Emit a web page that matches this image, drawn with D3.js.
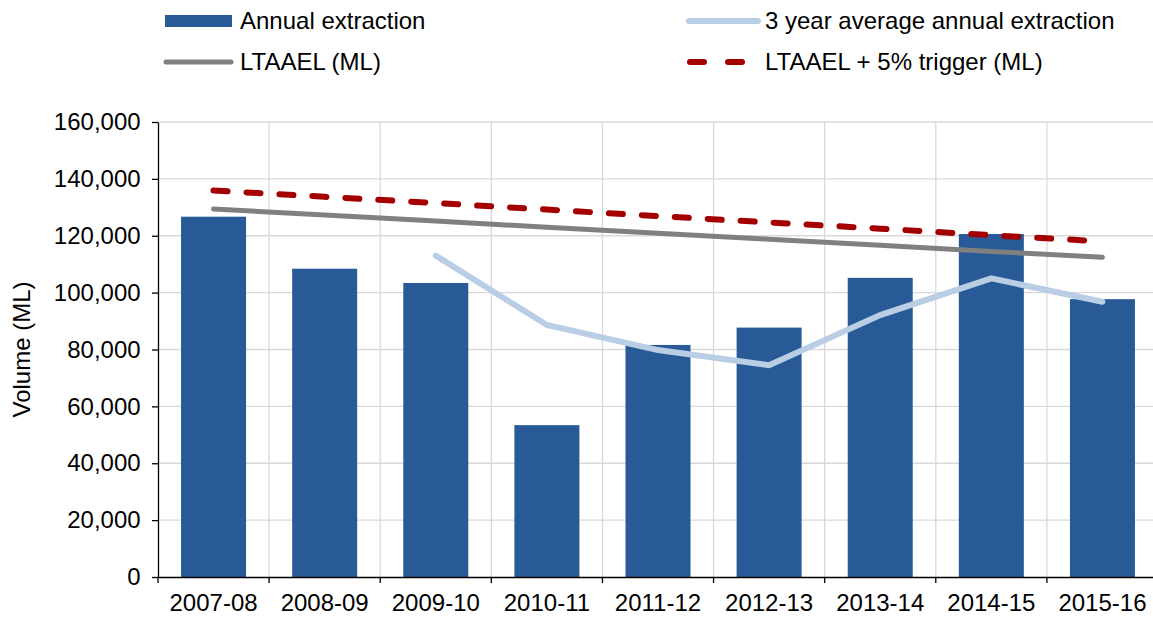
<!DOCTYPE html>
<html>
<head>
<meta charset="utf-8">
<script src="https://cdn.jsdelivr.net/npm/d3@7"></script>
<style>
  body { margin: 0; background: #fff; }
  svg { display: block; font-family: "Liberation Sans", Arial, sans-serif; }
</style>
</head>
<body>
<svg width="1153" height="619"></svg>
<script>
// chart data
const years = ["2007-08", "2008-09", "2009-10", "2010-11", "2011-12", "2012-13", "2013-14", "2014-15", "2015-16"];
const annualExtraction = [126700, 108400, 103400, 53400, 81600, 87700, 105200, 120600, 97700];
const threeYearAvg = [null, null, 113000, 88600, 79800, 74500, 92100, 105000, 96800];
const ltaael = [129400, 127300, 125200, 123000, 120900, 118800, 116700, 114500, 112400];
const ltaaelTrigger = [135900, 133700, 131500, 129200, 126900, 124700, 122500, 120200, 118000];
const yTicks = [0, 20000, 40000, 60000, 80000, 100000, 120000, 140000, 160000];

let svg = d3.select("svg");
let margin = {top: 122, left: 158}, width = 1000, height = 455;
let fontSize = 24;
let g = svg.append("g").attr("transform", "translate(" + margin.left + "," + margin.top + ")");

let x = d3.scaleBand().domain(years).range([0, width]).paddingInner(0.415).paddingOuter(0.2075);
let xb = d3.scaleBand().domain(years).range([0, width]);
let y = d3.scaleLinear().domain([0, 160000]).range([height, 0]);
let fmt = d3.format(",");

// gridlines
g.append("g").selectAll("line")
  .data(yTicks.slice(1))
  .enter().append("line")
  .attr("x1", 0).attr("x2", width)
  .attr("y1", d => y(d)).attr("y2", d => y(d))
  .attr("stroke", "#d9d9d9").attr("stroke-width", 1.3);
g.append("g").selectAll("line")
  .data(years.slice(1))
  .enter().append("line")
  .attr("x1", d => xb(d)).attr("x2", d => xb(d))
  .attr("y1", 0).attr("y2", height)
  .attr("stroke", "#d9d9d9").attr("stroke-width", 1.3);

// bars
g.selectAll(".bar")
  .data(years)
  .enter().append("rect")
  .attr("class", "bar")
  .attr("x", d => x(d))
  .attr("y", (d, i) => y(annualExtraction[i]))
  .attr("width", x.bandwidth())
  .attr("height", (d, i) => height - y(annualExtraction[i]))
  .attr("fill", "#275a97");

let line = d3.line()
  .defined(d => d[1] != null)
  .x(d => xb(d[0]) + xb.bandwidth() / 2)
  .y(d => y(d[1]));

g.append("path")
  .datum(years.map((d, i) => [d, ltaael[i]]))
  .attr("d", line)
  .attr("fill", "none").attr("stroke", "#808080").attr("stroke-width", 5).attr("stroke-linecap", "round");

g.append("path")
  .datum(years.map((d, i) => [d, ltaaelTrigger[i]]))
  .attr("d", line)
  .attr("fill", "none").attr("stroke", "#a50000").attr("stroke-width", 6)
  .attr("stroke-dasharray", "14,19").attr("stroke-linecap", "round");

g.append("path")
  .datum(years.map((d, i) => [d, threeYearAvg[i]]))
  .attr("d", line)
  .attr("fill", "none").attr("stroke", "#b9cde5").attr("stroke-width", 6).attr("stroke-linecap", "round");

// axes
let yAxis = g.append("g")
  .call(d3.axisLeft(y).tickValues(yTicks).tickFormat(fmt).tickSize(6).tickSizeOuter(0));
yAxis.selectAll("text").attr("font-size", fontSize).attr("fill", "#000").attr("dx", "-0.35em");
yAxis.select(".domain").attr("stroke", "#000").attr("stroke-width", 1.3);
yAxis.selectAll(".tick line").attr("stroke", "#000").attr("stroke-width", 1.3);

let xAxis = g.append("g")
  .attr("transform", "translate(0," + height + ")")
  .call(d3.axisBottom(xb).tickSize(0).tickSizeOuter(0));
xAxis.selectAll("text").attr("font-size", fontSize).attr("fill", "#000").attr("dy", "1.3em");
xAxis.select(".domain").attr("stroke", "#000").attr("stroke-width", 1.3);
xAxis.append("g").selectAll("line")
  .data(years)
  .enter().append("line")
  .attr("x1", d => xb(d)).attr("x2", d => xb(d))
  .attr("y1", 0).attr("y2", 6)
  .attr("stroke", "#000").attr("stroke-width", 1.3);

svg.append("text")
  .attr("transform", "translate(30," + (margin.top + height / 2) + ") rotate(-90)")
  .attr("text-anchor", "middle")
  .attr("font-size", fontSize)
  .text("Volume (ML)");

// legend
let legend = [
  {label: "Annual extraction", x: 165, y: 21, type: "bar"},
  {label: "3 year average annual extraction", x: 687, y: 21, type: "avg"},
  {label: "LTAAEL (ML)", x: 165, y: 62, type: "ltaael"},
  {label: "LTAAEL + 5% trigger (ML)", x: 687, y: 62, type: "trigger"}
];
let lg = svg.append("g").selectAll("g").data(legend).enter().append("g")
  .attr("transform", d => "translate(" + d.x + "," + d.y + ")");
lg.filter(d => d.type == "bar").append("rect")
  .attr("x", 0).attr("y", -6).attr("width", 67).attr("height", 12).attr("fill", "#275a97");
lg.filter(d => d.type == "avg").append("line")
  .attr("x1", 2).attr("x2", 71).attr("stroke", "#b9cde5").attr("stroke-width", 6).attr("stroke-linecap", "round");
lg.filter(d => d.type == "ltaael").append("line")
  .attr("x1", 1).attr("x2", 66).attr("stroke", "#808080").attr("stroke-width", 5).attr("stroke-linecap", "round");
lg.filter(d => d.type == "trigger").append("line")
  .attr("x1", 3).attr("x2", 64).attr("stroke", "#a50000").attr("stroke-width", 6)
  .attr("stroke-dasharray", "14,24").attr("stroke-linecap", "round");
lg.append("text")
  .attr("x", d => d.type == "bar" || d.type == "ltaael" ? 75 : 78)
  .attr("dy", "0.35em")
  .attr("font-size", fontSize)
  .text(d => d.label);
</script>
</body>
</html>
